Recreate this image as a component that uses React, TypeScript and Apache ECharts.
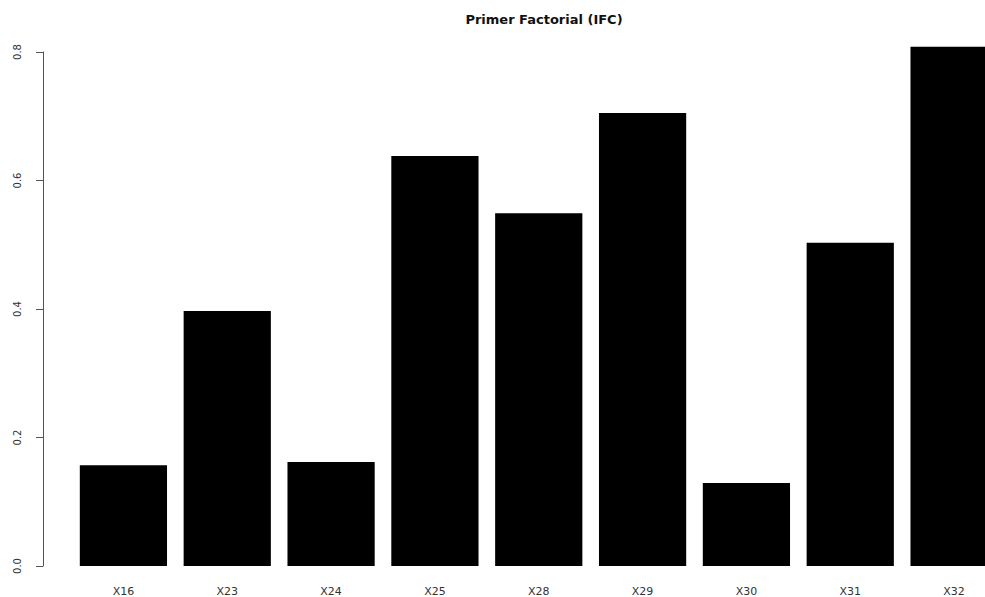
import React, { useEffect, useRef } from "react";
import * as echarts from "echarts";

const categories = ["X16", "X23", "X24", "X25", "X28", "X29", "X30", "X31", "X32"];
const loadings = [0.157, 0.397, 0.162, 0.638, 0.549, 0.705, 0.129, 0.503, 0.808];
const yTicks = [0, 0.2, 0.4, 0.6, 0.8];
const titleText = "Primer Factorial (IFC)";

export default function App() {
  const ref = useRef<HTMLDivElement>(null);
  useEffect(() => {
    if (!ref.current) return;
    const chart = echarts.init(ref.current, null, { renderer: "svg" });
    chart.setOption({
      animation: false,
      backgroundColor: "#ffffff",
      title: {
        text: titleText,
        left: 539,
        top: 8,
        textAlign: "center",
        textStyle: {
          fontFamily: "DejaVu Sans, sans-serif",
          fontWeight: "bold",
          fontSize: 13,
          color: "#111",
        },
      },
      grid: { left: 71.5, right: 0, top: 52, bottom: 31 },
      xAxis: {
        type: "category",
        data: categories,
        axisLine: { show: false },
        axisTick: { show: false },
        axisLabel: {
          margin: 20,
          fontFamily: "DejaVu Sans, sans-serif",
          fontSize: 11,
          color: "#333",
        },
      },
      yAxis: {
        type: "value",
        min: 0,
        max: yTicks[yTicks.length - 1],
        interval: 0.2,
        offset: 28.5,
        splitLine: { show: false },
        axisLine: { show: true, lineStyle: { color: "#555", width: 1 } },
        axisTick: { show: true, length: 7, lineStyle: { color: "#555" } },
        axisLabel: {
          rotate: 90,
          margin: 21,
          fontFamily: "DejaVu Sans, sans-serif",
          fontSize: 10,
          color: "#333",
          formatter: (v: number) => v.toFixed(1),
        },
      },
      series: [
        {
          type: "bar",
          data: loadings,
          clip: false,
          barCategoryGap: "16%",
          itemStyle: { color: "#000000" },
        },
      ],
    });
    return () => chart.dispose();
  }, []);
  return (
    <div style={{ position: "fixed", left: 0, top: 0, width: 985, height: 597, overflow: "hidden", background: "#fff" }}>
      <div ref={ref} style={{ width: 1006, height: 597 }} />
    </div>
  );
}
